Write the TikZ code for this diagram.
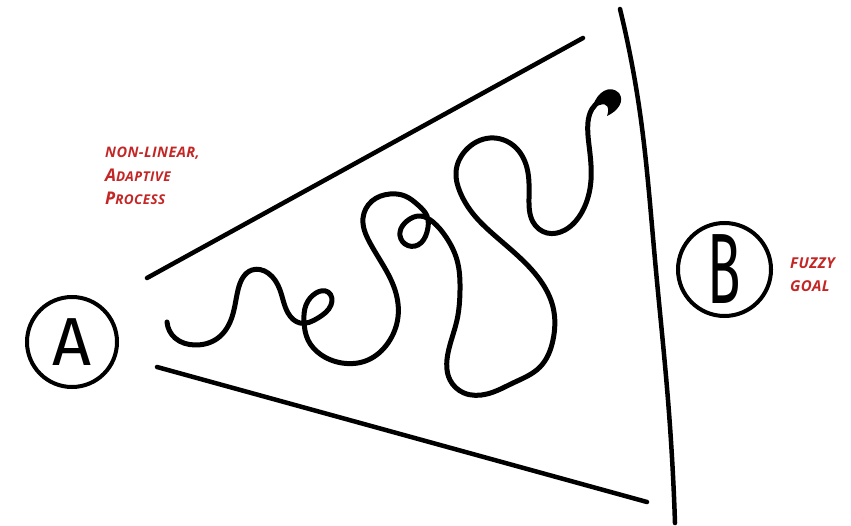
\documentclass[tikz,border=0pt]{standalone}
\usepackage{fontspec}
\setmainfont{Fira Sans}
\newfontfamily\handfont{Open Sans}
\usetikzlibrary{hobby,arrows.meta}
\definecolor{notered}{RGB}{196,38,38}
\newcommand{\notefont}{\handfont\bfseries\itshape\addfontfeature{LetterSpace=3}}
\tikzset{
  stroke/.style={line width=4.5pt,line cap=round,line join=round},
  ring/.style={circle,draw,line width=4pt,inner sep=0pt},
  note/.style={text=notered,anchor=base west,inner sep=0pt},
  letter/.style={font=\fontsize{68}{68}\selectfont},
}
\begin{document}
\begin{tikzpicture}[x=1pt,y=-1pt]
\useasboundingbox (0,0) rectangle (851,526);
% circles with letters
\node[ring,minimum size=90pt,letter] (circA) at (72,342) {A};
\node[ring,minimum size=93pt,font=\fontsize{100}{100}\selectfont] (circB) at (724.5,269.5) {\scalebox{0.55}[1]{B}};
% funnel lines
\coordinate (u1) at (147,278);
\coordinate (u2) at (583,38);
\coordinate (l1) at (157,367);
\coordinate (l2) at (647,502);
\draw[stroke] (u1) -- (u2);
\draw[stroke] (l1) -- (l2);
\draw[stroke,use Hobby shortcut] (620,9) .. (640,113) .. (655,260) .. (668,400) .. (675,523);
% squiggle
\draw[stroke,line width=5pt,use Hobby shortcut]
 (167,322) .. (175,338) .. (195,345) .. (218,338) .. (232,317) .. (238,290) .. (252,270)
 .. (268,273) .. (280,290) .. (288,313) .. (300,323) .. (318,318) .. (331,305) .. (328,292)
 .. (316,293) .. (306,305) .. (304,322) .. (308,340) .. (320,354) .. (342,363) .. (368,360)
 .. (388,343) .. (398,317) .. (395,290) .. (383,265) .. (370,243) .. (363,218) .. (372,201)
 .. (390,194) .. (405,196) .. (418,205) .. (427,216) .. (427,232) .. (418,245) .. (405,244)
 .. (400,232) .. (407,221) .. (420,216) .. (433,222) .. (446,237) .. (457,260) .. (460,290)
 .. (457,320) .. (448,353) .. (450,380) .. (464,393) .. (487,394) .. (513,383) .. (540,367)
 .. (553,340) .. (553,307) .. (540,280) .. (517,255) .. (493,234) .. (474,215) .. (460,192)
 .. (456,172) .. (466,150) .. (490,138) .. (514,146) .. (527,168) .. (529,198) .. (533,222)
 .. (547,233) .. (565,230) .. (582,212) .. (591,180) .. (589,145) .. (588,122) .. (592,109)
 .. (600,101);
% curled arrow head
\fill[line join=round] (593,106) .. controls (597,92) and (610,84) .. (619,93)
  .. controls (625,101) and (618,111) .. (607,116)
  .. controls (610,108) and (607,102) .. (600,105) -- cycle;
% notes
\node[note,font=\notefont\fontsize{14.5}{14.5}\selectfont] (n1) at (105,158) {NON-LINEAR,};
\node[note,font=\notefont] (n2) at (105,182) {{\fontsize{17.5}{17.5}\selectfont A}{\fontsize{13.5}{13.5}\selectfont DAPTIVE}};
\node[note,font=\notefont] (n3) at (105,205) {{\fontsize{17.5}{17.5}\selectfont P}{\fontsize{13.5}{13.5}\selectfont ROCESS}};
\node[note,font=\notefont\fontsize{15}{15}\selectfont] (n4) at (790,269) {FUZZY};
\node[note,font=\notefont\fontsize{15}{15}\selectfont] (n5) at (790,292) {GOAL};
\end{tikzpicture}
\end{document}
